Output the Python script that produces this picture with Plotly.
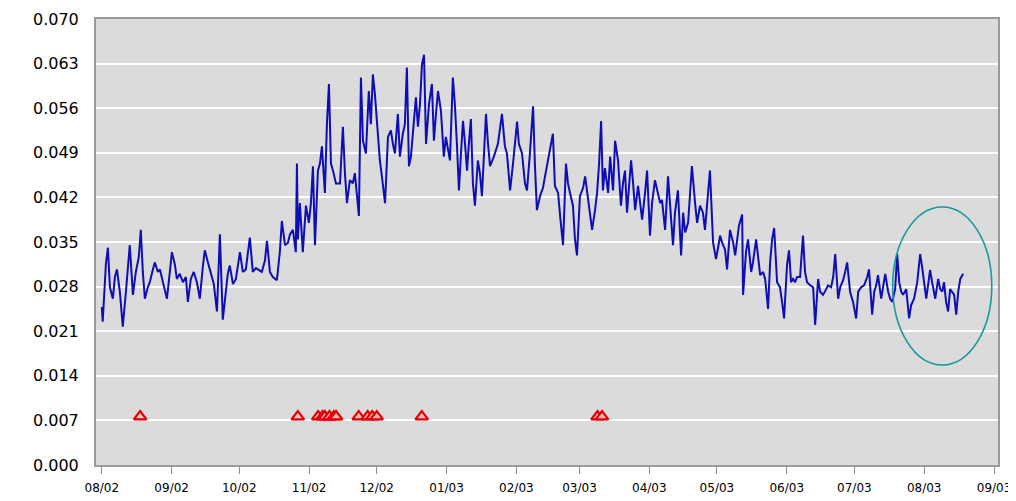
import pandas as pd
import plotly.graph_objects as go

# ---- data ----
START_DATE = "2002-08-01"

# day offsets from START_DATE for each reading of the blue series
DAY = [0.0, 0.4, 1.8, 2.7, 3.6, 4.9, 5.8, 6.7, 8.0, 9.3, 10.7, 11.5, 12.4, 13.8, 15.1, 16.4, 17.3, 18.2, 19.1, 20.4,
       21.3, 22.6, 23.5, 24.9, 25.8, 27.1, 28.9, 30.2, 31.1, 32.4, 33.3, 34.6, 36.0, 37.3, 38.2, 39.5, 40.8, 42.2, 43.5, 44.8,
       45.7, 47.1, 48.4, 49.7, 51.1, 52.4, 53.7, 55.1, 55.9, 56.8, 58.2, 59.5, 61.3, 62.6, 63.9, 65.7, 67.0, 68.4, 69.7, 71.0,
       72.4, 73.3, 74.6, 75.9, 77.7, 79.0, 79.9, 81.3, 82.6, 83.5, 84.8, 86.1, 86.6, 87.0, 87.9, 89.2, 90.6, 91.9, 92.8, 93.7,
       94.6, 95.9, 96.8, 97.7, 99.0, 99.9, 100.8, 101.7, 102.6, 103.9, 105.7, 107.0, 107.9, 108.8, 110.1, 111.4, 112.3, 113.2, 114.1, 115.0,
       115.9, 117.2, 118.5, 119.4, 120.3, 121.2, 122.1, 123.4, 124.3, 125.7, 127.0, 128.3, 129.2, 130.1, 131.4, 132.3, 133.6, 134.5, 135.4, 136.3,
       137.2, 138.5, 139.4, 140.3, 141.2, 142.1, 143.0, 143.9, 145.2, 146.5, 147.4, 148.3, 149.2, 150.5, 151.8, 152.7, 154.5, 155.8, 156.7, 157.6,
       158.5, 159.4, 160.3, 161.2, 162.1, 162.9, 163.8, 164.7, 165.6, 166.9, 167.8, 168.7, 169.6, 170.5, 171.4, 172.3, 174.0, 175.8, 177.6, 178.9,
       179.8, 181.2, 182.5, 184.3, 185.1, 186.5, 187.8, 188.7, 190.0, 191.4, 192.2, 193.1, 194.5, 195.8, 196.7, 198.0, 198.9, 200.2, 201.1, 202.5,
       203.4, 204.7, 206.0, 206.9, 207.8, 209.1, 210.0, 210.9, 212.2, 213.6, 214.5, 215.8, 216.7, 217.6, 218.9, 219.8, 220.7, 221.6, 222.4, 223.3,
       224.7, 225.6, 226.9, 227.8, 229.1, 230.4, 231.3, 232.2, 233.1, 234.0, 234.9, 235.8, 236.7, 238.0, 239.8, 241.1, 242.0, 243.3, 244.2, 245.5,
       246.9, 247.8, 248.6, 250.0, 251.3, 252.2, 253.5, 254.4, 255.7, 257.1, 258.0, 258.9, 260.2, 261.1, 261.9, 263.3, 264.2, 265.5, 266.8, 267.7,
       269.0, 269.9, 271.3, 272.6, 273.5, 274.4, 275.3, 276.6, 277.5, 278.8, 280.2, 281.1, 282.8, 284.2, 284.6, 285.9, 286.8, 288.2, 289.0, 290.4,
       291.3, 292.2, 293.5, 294.4, 295.7, 296.6, 297.5, 298.4, 299.7, 301.0, 301.9, 302.8, 304.1, 305.0, 305.9, 306.8, 307.7, 308.6, 309.9, 311.2,
       312.1, 313.0, 314.4, 315.7, 316.6, 317.9, 318.8, 320.1, 321.5, 322.3, 323.7, 324.6, 325.5, 326.8, 327.7, 329.0, 329.9, 330.8, 332.1, 333.4,
       334.8, 335.7, 337.0, 338.3, 339.7, 340.5, 341.9, 342.8, 343.7, 344.5, 345.9, 346.8, 347.7, 349.0, 349.9, 350.8, 352.1, 353.0, 353.9, 354.8,
       355.6, 357.0, 358.3, 359.2, 360.5, 361.9, 363.2, 364.1, 365.0, 365.9, 366.7, 367.6, 368.5, 369.9, 371.2, 372.1, 373.0, 373.8, 374.7, 375.6,
       376.5, 377.4, 378.3, 379.2, 380.1, 381.0, 382.3]

VALUE = [0.0248, 0.0225, 0.0315, 0.0341, 0.0279, 0.0261, 0.0295, 0.0307, 0.0272, 0.0217, 0.0272, 0.0310, 0.0345, 0.0267, 0.0303, 0.0326, 0.0369, 0.0303, 0.0261, 0.0279,
         0.0287, 0.0306, 0.0318, 0.0303, 0.0307, 0.0287, 0.0261, 0.0303, 0.0334, 0.0315, 0.0292, 0.0300, 0.0287, 0.0295, 0.0256, 0.0292, 0.0303, 0.0287, 0.0261, 0.0310,
         0.0337, 0.0318, 0.0303, 0.0284, 0.0241, 0.0362, 0.0228, 0.0272, 0.0300, 0.0313, 0.0284, 0.0292, 0.0334, 0.0303, 0.0307, 0.0357, 0.0303, 0.0309, 0.0306, 0.0303,
         0.0321, 0.0352, 0.0303, 0.0295, 0.0290, 0.0334, 0.0383, 0.0345, 0.0349, 0.0362, 0.0369, 0.0334, 0.0473, 0.0354, 0.0411, 0.0334, 0.0407, 0.0380, 0.0411, 0.0469,
         0.0345, 0.0462, 0.0473, 0.0500, 0.0427, 0.0535, 0.0598, 0.0473, 0.0462, 0.0442, 0.0442, 0.0531, 0.0458, 0.0411, 0.0447, 0.0442, 0.0458, 0.0427, 0.0391, 0.0608,
         0.0509, 0.0489, 0.0587, 0.0535, 0.0613, 0.0582, 0.0535, 0.0478, 0.0453, 0.0411, 0.0515, 0.0525, 0.0504, 0.0489, 0.0551, 0.0484, 0.0520, 0.0535, 0.0624, 0.0469,
         0.0484, 0.0535, 0.0577, 0.0531, 0.0566, 0.0629, 0.0644, 0.0504, 0.0566, 0.0598, 0.0509, 0.0551, 0.0587, 0.0556, 0.0484, 0.0515, 0.0478, 0.0608, 0.0566, 0.0504,
         0.0431, 0.0489, 0.0540, 0.0504, 0.0462, 0.0504, 0.0543, 0.0442, 0.0407, 0.0478, 0.0458, 0.0422, 0.0489, 0.0551, 0.0504, 0.0469, 0.0484, 0.0504, 0.0551, 0.0500,
         0.0489, 0.0431, 0.0473, 0.0539, 0.0504, 0.0489, 0.0442, 0.0431, 0.0489, 0.0563, 0.0473, 0.0400, 0.0422, 0.0435, 0.0453, 0.0478, 0.0489, 0.0520, 0.0438, 0.0427,
         0.0391, 0.0345, 0.0473, 0.0442, 0.0427, 0.0407, 0.0354, 0.0329, 0.0422, 0.0435, 0.0453, 0.0416, 0.0396, 0.0369, 0.0400, 0.0427, 0.0473, 0.0540, 0.0431, 0.0466,
         0.0427, 0.0484, 0.0431, 0.0509, 0.0478, 0.0407, 0.0442, 0.0462, 0.0396, 0.0442, 0.0478, 0.0442, 0.0400, 0.0438, 0.0385, 0.0427, 0.0462, 0.0360, 0.0411, 0.0447,
         0.0427, 0.0411, 0.0416, 0.0369, 0.0453, 0.0411, 0.0345, 0.0396, 0.0431, 0.0329, 0.0396, 0.0365, 0.0380, 0.0427, 0.0469, 0.0411, 0.0380, 0.0407, 0.0396, 0.0369,
         0.0427, 0.0462, 0.0349, 0.0323, 0.0341, 0.0360, 0.0349, 0.0338, 0.0307, 0.0369, 0.0349, 0.0329, 0.0376, 0.0393, 0.0267, 0.0334, 0.0354, 0.0303, 0.0318, 0.0354,
         0.0326, 0.0298, 0.0303, 0.0292, 0.0245, 0.0318, 0.0354, 0.0372, 0.0287, 0.0279, 0.0256, 0.0230, 0.0313, 0.0337, 0.0287, 0.0292, 0.0287, 0.0295, 0.0295, 0.0360,
         0.0303, 0.0287, 0.0282, 0.0279, 0.0220, 0.0292, 0.0272, 0.0267, 0.0276, 0.0282, 0.0279, 0.0295, 0.0331, 0.0261, 0.0279, 0.0290, 0.0303, 0.0318, 0.0272, 0.0256,
         0.0230, 0.0272, 0.0279, 0.0282, 0.0295, 0.0307, 0.0236, 0.0272, 0.0282, 0.0298, 0.0261, 0.0279, 0.0300, 0.0272, 0.0261, 0.0256, 0.0276, 0.0331, 0.0287, 0.0272,
         0.0267, 0.0276, 0.0230, 0.0251, 0.0261, 0.0287, 0.0331, 0.0310, 0.0282, 0.0261, 0.0282, 0.0306, 0.0287, 0.0261, 0.0292, 0.0276, 0.0272, 0.0287, 0.0256, 0.0241,
         0.0276, 0.0272, 0.0267, 0.0236, 0.0272, 0.0292, 0.0300]

# event markers (red triangles)
EVENT_DATES = ["2002-08-18", "2002-10-27", "2002-11-05", "2002-11-07", "2002-11-08", "2002-11-10",
               "2002-11-12", "2002-11-13", "2002-11-23", "2002-11-27", "2002-11-29", "2002-12-01",
               "2002-12-21", "2003-03-09", "2003-03-11"]
EVENT_LEVEL = 0.0076

# highlighted region (ellipse)
HIGHLIGHT_X = ["2003-07-18", "2003-08-31"]
HIGHLIGHT_Y = [0.0157, 0.0405]

X_RANGE = ["2002-07-29 10:00", "2003-09-02 18:00"]
Y_MAX = 0.070
Y_STEP = 0.007

# ---- figure ----
dates = pd.Timestamp(START_DATE) + pd.to_timedelta(DAY, unit="D")

fig = go.Figure()
fig.add_trace(go.Scatter(
    x=dates, y=VALUE, mode="lines",
    line=dict(color="#0e0eb4", width=2),
    showlegend=False, hoverinfo="x+y",
))
fig.add_trace(go.Scatter(
    x=pd.to_datetime(EVENT_DATES), y=[EVENT_LEVEL] * len(EVENT_DATES), mode="markers",
    marker=dict(symbol="triangle-up", size=11, color="rgba(255,190,190,0.9)",
                line=dict(color="#e00000", width=2.2)),
    showlegend=False,
))

fig.add_shape(type="circle", xref="x", yref="y",
              x0=HIGHLIGHT_X[0], x1=HIGHLIGHT_X[1], y0=HIGHLIGHT_Y[0], y1=HIGHLIGHT_Y[1],
              line=dict(color="#17989a", width=1.6))

# page body adds an 8px offset, so the figure is sized to end at the window edge
fig.update_layout(
    width=1008, height=493,
    margin=dict(l=88, r=18, t=11, b=36, autoexpand=False),
    paper_bgcolor="white",
    plot_bgcolor="#dbdbdb",
    font=dict(family="DejaVu Sans", color="black"),
)
fig.update_xaxes(
    type="date", range=X_RANGE, automargin=False,
    tick0=START_DATE, dtick="M1", tickformat="%m/%y",
    ticks="outside", ticklen=7, tickcolor="#8c8c8c", tickwidth=1,
    tickfont=dict(size=12, family="DejaVu Sans"),
    showgrid=False, zeroline=False,
    showline=True, mirror=True, linecolor="#9a9a9a", linewidth=2,
    ticklabelstandoff=4, ticklabeloverflow="allow",
)
fig.update_yaxes(
    range=[0, Y_MAX], tick0=0, dtick=Y_STEP, tickformat=".3f", automargin=False,
    showgrid=True, gridcolor="white", gridwidth=2,
    zeroline=False, ticks="",
    tickfont=dict(size=16, family="DejaVu Sans"),
    showline=True, mirror=True, linecolor="#9a9a9a", linewidth=2,
    ticklabelstandoff=12, ticklabeloverflow="allow",
)

fig.write_html("out.html")
